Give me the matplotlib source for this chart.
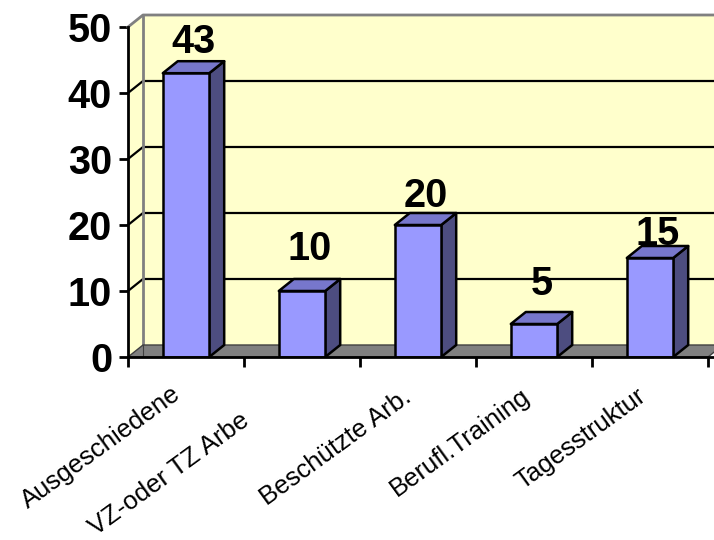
import matplotlib.pyplot as plt
from matplotlib.patches import Polygon

plt.rcParams['font.family'] = ['Liberation Sans', 'DejaVu Sans']

kategorien = ['Ausgeschiedene', 'VZ-oder TZ Arbe', 'Beschützte Arb.', 'Berufl.Training', 'Tagesstruktur']
werte = [43, 10, 20, 5, 15]
y_ticks = [0, 10, 20, 30, 40, 50]

# Abstand der Beschriftung über dem Balken (Werteinheiten)
label_gap = [1.3, 2.9, 0.9, 2.6, 0.2]
# Verschiebung der Kategorienbeschriftung (Punkte)
label_shift = [(-11, -18), (-45, -37), (-12, -20), (-10, -19), (-10, -19)]

front = '#9999FF'
top = '#7777CC'
side = '#4D4D80'
wand = '#FFFFCC'
boden = '#808080'

fig = plt.figure(figsize=(7.14, 5.4), dpi=100)
ax = fig.add_axes([128 / 714, 183 / 540, 586 / 714, 330 / 540])
xmax = 586 / 116
ax.set_xlim(0, xmax)
ax.set_ylim(0, 50)

# Tiefe des 3D-Effekts in Dateneinheiten
DX = 15 / 116
DY = 12 / 6.6

# Rückwand und Seitenwand
ax.add_patch(Polygon([(DX, DY), (xmax + 1, DY), (xmax + 1, 50 + DY), (DX, 50 + DY)],
                     closed=True, fc=wand, ec='none', clip_on=False, zorder=1))
ax.add_patch(Polygon([(0, 0), (DX, DY), (DX, 50 + DY), (0, 50)],
                     closed=True, fc=wand, ec='none', clip_on=False, zorder=1))

# Gitterlinien
for v in y_ticks[1:-1]:
    ax.plot([0, DX, xmax + 1], [v, v + DY, v + DY], color='black', lw=1.6,
            clip_on=False, zorder=2)
ax.plot([0, DX, xmax + 1], [50, 50 + DY, 50 + DY], color='#808080', lw=2,
        clip_on=False, zorder=2)
ax.plot([DX, DX], [DY, 50 + DY], color='#808080', lw=2, clip_on=False, zorder=2)

# Boden
ax.add_patch(Polygon([(0, 0), (5, 0), (5 + DX, DY), (DX, DY)],
                     closed=True, fc=boden, ec='#404040', lw=1, clip_on=False, zorder=3))
ax.plot([DX, DX], [0, DY], color='#404040', lw=0.8, zorder=3)

# Balken
breite = 0.4
for i, v in enumerate(werte):
    x0 = i + 0.5 - breite / 2
    x1 = i + 0.5 + breite / 2
    ax.add_patch(Polygon([(x1, 0), (x1 + DX, DY), (x1 + DX, v + DY), (x1, v)],
                         closed=True, fc=side, ec='black', lw=1.8, joinstyle='round', zorder=4))
    ax.add_patch(Polygon([(x0, v), (x1, v), (x1 + DX, v + DY), (x0 + DX, v + DY)],
                         closed=True, fc=top, ec='black', lw=1.8, joinstyle='round', zorder=4))
    ax.add_patch(Polygon([(x0, 0), (x1, 0), (x1, v), (x0, v)],
                         closed=True, fc=front, ec='black', lw=1.8, joinstyle='round', zorder=5))
    ax.text(i + 0.5 + DX / 2, v + DY + label_gap[i], str(v), ha='center', va='baseline',
            fontsize=28.5, fontweight='bold', zorder=6)

# Achsen
for s in ['top', 'right']:
    ax.spines[s].set_visible(False)
for s in ['left', 'bottom']:
    ax.spines[s].set_linewidth(2)
    ax.spines[s].set_zorder(7)
ax.spines['left'].set_bounds(0, 50)

ax.set_yticks(y_ticks)
ax.set_yticklabels([str(t) for t in y_ticks], fontsize=28.5, fontweight='bold')
ax.tick_params(axis='y', length=6.5, width=2, pad=5, direction='out')
ax.set_xticks(range(6))
ax.set_xticklabels([])
ax.tick_params(axis='x', length=7, width=2, direction='out')

for i, name in enumerate(kategorien):
    ax.annotate(name, xy=(i + 0.5, 0), xytext=label_shift[i], textcoords='offset points',
                rotation=36, rotation_mode='anchor', ha='right', va='top',
                fontsize=18.5, annotation_clip=False)

fig.savefig('out.png', dpi=100)
